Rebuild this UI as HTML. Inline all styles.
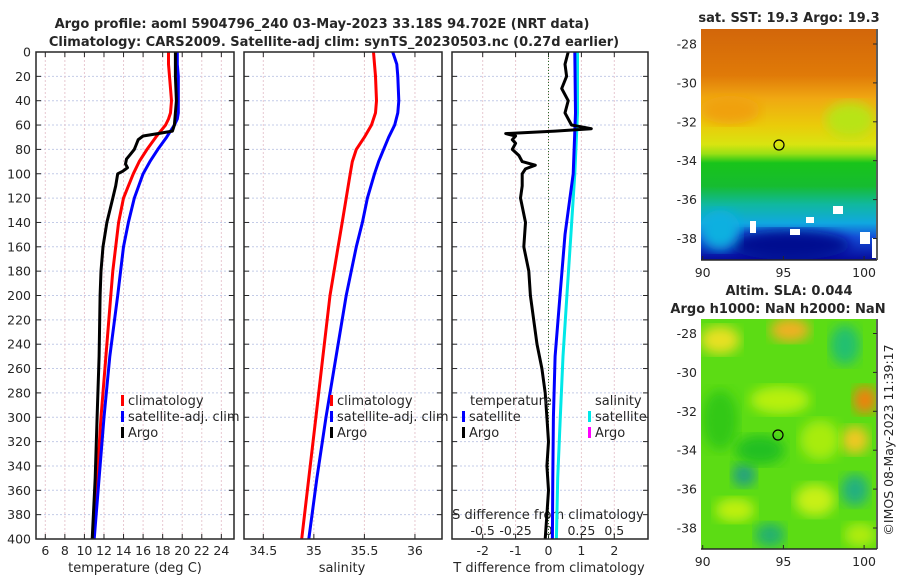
<!DOCTYPE html>
<html><head><meta charset="utf-8"><style>
html,body{margin:0;padding:0;background:#fff;}
svg text{font-family:"DejaVu Sans","Liberation Sans",sans-serif;}
</style></head><body>
<svg id="fig" width="900" height="580" viewBox="0 0 900 580" xmlns="http://www.w3.org/2000/svg">
<defs>
<linearGradient id="sstGrad" x1="0" y1="0" x2="0" y2="1">
<stop offset="0" stop-color="#d2660a"/><stop offset="0.2" stop-color="#e07a08"/>
<stop offset="0.3" stop-color="#f0a812"/><stop offset="0.42" stop-color="#eacc0a"/>
<stop offset="0.5" stop-color="#d8e410"/><stop offset="0.54" stop-color="#9ae014"/>
<stop offset="0.58" stop-color="#18c41a"/><stop offset="0.68" stop-color="#16bc30"/>
<stop offset="0.76" stop-color="#10b8a0"/><stop offset="0.84" stop-color="#10a8e0"/>
<stop offset="0.9" stop-color="#1450d8"/><stop offset="1" stop-color="#060a9c"/>
</linearGradient>
<filter id="blur4"><feGaussianBlur stdDeviation="6"/></filter>
<clipPath id="clipTop"><rect x="701" y="29" width="175" height="231"/></clipPath>
<clipPath id="clipBot"><rect x="701" y="319" width="175" height="230"/></clipPath>
</defs>
</svg>
<script>
// ---------- data ----------
const depthTicks=[0,20,40,60,80,100,120,140,160,180,200,220,240,260,280,300,320,340,360,380,400];
const tempTicks=[6,8,10,12,14,16,18,20,22,24];
const salTicks=[34.5,35,35.5,36];
const salTickLabels=["34.5","35","35.5","36"];
const tdiffTicks=[-2,-1,0,1,2];
const sdiffTicks=[-0.5,-0.25,0,0.25,0.5];
const sdiffTickLabels=["-0.5","-0.25","0","0.25","0.5"];

const climDepths=[0,10,20,30,40,50,55,60,65,70,80,90,100,120,140,160,180,200,250,300,350,400];
const tempClim=[18.6,18.6,18.7,18.8,18.9,18.8,18.6,18.3,17.8,17.3,16.4,15.6,15.0,14.0,13.5,13.2,12.9,12.7,12.2,11.7,11.3,10.9];
const tempSat=[19.5,19.5,19.6,19.6,19.6,19.6,19.5,19.2,18.8,18.4,17.5,16.7,16.0,15.1,14.5,14.0,13.7,13.4,12.6,12.0,11.5,11.0];
const argoDepths=[0,20,40,60,65,67,69,72,76,80,84,88,92,95,98,100,110,120,140,160,180,200,250,300,350,400];
const tempArgo=[19.3,19.3,19.4,19.2,19.0,17.5,16.0,15.5,15.3,15.1,14.7,14.3,14.2,14.4,13.9,13.4,13.2,12.9,12.3,11.9,11.7,11.6,11.5,11.3,11.1,10.8];

const salDepths=[0,10,20,40,50,60,70,80,90,100,120,140,160,200,250,300,350,400];
const salClim=[35.59,35.60,35.61,35.62,35.61,35.57,35.50,35.42,35.38,35.36,35.32,35.28,35.24,35.16,35.09,35.02,34.95,34.88];
const salSat=[35.78,35.82,35.83,35.84,35.83,35.80,35.74,35.69,35.64,35.60,35.53,35.48,35.42,35.32,35.22,35.12,35.03,34.95];

const tdArgoDepths=[0,10,20,30,40,50,60,63,65,67,69,72,75,80,85,90,93,96,100,110,120,140,160,180,200,220,240,260,280,300,320,340,360,380,400];
const tdArgo=[0.6,0.5,0.55,0.4,0.6,0.5,0.7,1.3,0.2,-1.3,-1.0,-1.1,-1.0,-1.1,-0.9,-0.8,-0.4,-0.7,-0.8,-0.8,-0.85,-0.7,-0.75,-0.6,-0.55,-0.45,-0.35,-0.2,-0.1,-0.05,0,-0.05,0,-0.05,-0.1];
const tdSatDepths=[0,50,100,150,200,250,300,350,400];
const tdSat=[0.8,0.82,0.75,0.5,0.35,0.2,0.15,0.13,0.12];
const sdSatDepths=[0,50,100,150,200,250,300,350,400];
const sdSat=[0.22,0.22,0.2,0.17,0.14,0.11,0.09,0.07,0.06];

// ---------- axes ----------
const Y0=52,Y1=539;
const yD=d=>Y0+d*(Y1-Y0)/400;
const xT=t=>45.3+(t-6)*9.78;
const xS=s=>263.3+(s-34.5)*101.1;
const xTd=v=>548.5+v*32.9;
const xSd=v=>548.5+v*131.6;
const NS="http://www.w3.org/2000/svg";
const svg=document.getElementById('fig');
function el(tag,attrs,parent){const e=document.createElementNS(NS,tag);for(const k in attrs)e.setAttribute(k,attrs[k]);(parent||svg).appendChild(e);return e;}
function txt(x,y,s,o){o=o||{};const t=el('text',{x:x,y:y,'font-size':o.size||12,'text-anchor':o.anchor||'middle',fill:o.fill||'#262626','font-weight':o.bold?'bold':'normal'});if(o.transform)t.setAttribute('transform',o.transform);t.textContent=s;return t;}

const panels=[{x0:36,x1:234,name:'temperature-panel'},{x0:244,x1:442,name:'salinity-panel'},{x0:452,x1:648,name:'difference-panel'}];
panels.forEach((p,i)=>{
  const g=el('g',{});
  
  
  el('rect',{x:p.x0,y:Y0,width:p.x1-p.x0,height:Y1-Y0,fill:'#fff'},g);
  depthTicks.forEach(d=>{
    if(d>0&&d<400) el('line',{x1:p.x0,x2:p.x1,y1:yD(d),y2:yD(d),stroke:'#c4cce8','stroke-width':1,'stroke-dasharray':'2,2'},g);
    el('line',{x1:p.x0,x2:p.x0+5,y1:yD(d),y2:yD(d),stroke:'#262626'},g);
    el('line',{x1:p.x1,x2:p.x1-5,y1:yD(d),y2:yD(d),stroke:'#262626'},g);
  });
  const xs= i==0? tempTicks.map(xT): i==1? salTicks.map(xS): tdiffTicks.map(xTd);
  xs.forEach(x=>{
    el('line',{x1:x,x2:x,y1:Y0,y2:Y1,stroke:'#e8c8d0','stroke-width':1,'stroke-dasharray':'2,2'},g);
    el('line',{x1:x,x2:x,y1:Y1,y2:Y1-5,stroke:'#262626'},g);
    el('line',{x1:x,x2:x,y1:Y0,y2:Y0+5,stroke:'#262626'},g);
  });
});
depthTicks.forEach(d=>{const t=txt(31,yD(d)+4.5,String(d),{anchor:'end',size:12.5});});
tempTicks.forEach(v=>txt(xT(v),555,String(v),{size:12.5}));
salTicks.forEach((v,i)=>txt(xS(v),555,salTickLabels[i],{size:12.5}));
tdiffTicks.forEach(v=>txt(xTd(v),555,String(v),{size:12.5}));
sdiffTicks.forEach((v,i)=>txt(xSd(v),535,sdiffTickLabels[i],{size:12.5}));
txt(135,572,'temperature (deg C)',{size:13});
txt(342,572,'salinity',{size:13});
txt(549,572,'T difference from climatology',{size:13});
txt(548,519,'S difference from climatology',{size:13});
el('line',{x1:xTd(0),x2:xTd(0),y1:Y0,y2:Y1,stroke:'#2a6a2a','stroke-width':1,'stroke-dasharray':'1,2'});

function line(depths,vals,xf,color,w,name){
  const pts=depths.map((d,i)=>xf(vals[i]).toFixed(1)+','+yD(d).toFixed(1)).join(' ');
  const pl=el('polyline',{points:pts,fill:'none',stroke:color,'stroke-width':w,'stroke-linejoin':'round'});
  
  
}
line(climDepths,tempClim,xT,'#ff0000',3,'temp-climatology-line');
line(climDepths,tempSat,xT,'#0000ff',3,'temp-satellite-line');
line(argoDepths,tempArgo,xT,'#000',3,'temp-argo-line');
line(salDepths,salClim,xS,'#ff0000',3,'sal-climatology-line');
line(salDepths,salSat,xS,'#0000ff',3,'sal-satellite-line');
line(sdSatDepths,sdSat,xSd,'#00e8e8',3,'sdiff-satellite-line');
line(tdSatDepths,tdSat,xTd,'#0000ff',3,'tdiff-satellite-line');
line(tdArgoDepths,tdArgo,xTd,'#000',3,'tdiff-argo-line');

panels.forEach(p=>el('rect',{x:p.x0,y:Y0,width:p.x1-p.x0,height:Y1-Y0,fill:'none',stroke:'#262626','stroke-width':1.5}));

function leg(x,y,color,label,name){
  const g=el('g',{});
  
  
  el('rect',{x:x,y:y-10,width:3,height:11,fill:color},g);
  const t=txt(x+7,y,label,{anchor:'start',size:13});g.appendChild(t);
}
leg(121,405,'#ff0000','climatology','legend-climatology');
leg(121,421,'#0000ff','satellite-adj. clim','legend-satellite');
leg(121,437,'#000','Argo','legend-argo');
leg(330,405,'#ff0000','climatology','legend-climatology-sal');
leg(330,421,'#0000ff','satellite-adj. clim','legend-satellite-sal');
leg(330,437,'#000','Argo','legend-argo-sal');
txt(470,405,'temperature',{anchor:'start',size:13});
leg(462,421,'#0000ff','satellite','legend-t-satellite');
leg(462,437,'#000','Argo','legend-t-argo');
txt(595,405,'salinity',{anchor:'start',size:13});
leg(588,421,'#00e8e8','satellite','legend-s-satellite');
leg(588,437,'#ff00ff','Argo','legend-s-argo');

txt(322,28,'Argo profile: aoml 5904796_240 03-May-2023 33.18S 94.702E (NRT data)',{bold:true,size:13});
txt(334,46,'Climatology: CARS2009. Satellite-adj clim: synTS_20230503.nc (0.27d earlier)',{bold:true,size:13});
txt(789,22,'sat. SST: 19.3 Argo: 19.3',{bold:true,size:13});
txt(789,295,'Altim. SLA: 0.044',{bold:true,size:13});
txt(778,313,'Argo h1000: NaN h2000: NaN',{bold:true,size:13});
txt(893,440,'©IMOS 08-May-2023 11:39:17',{size:12.5,transform:'rotate(-90 893 440)'});

// maps
const mapLatTicks=[-28,-30,-32,-34,-36,-38];
const mapLonTicks=[90,95,100];
const xLon=l=>702.7+(l-90)*16.14;
function mapFrame(name){
  const g=el('g',{});
  
  
  return g;
}
const g1=mapFrame('sst-map');
const c1=el('g',{'clip-path':'url(#clipTop)'},g1);
el('rect',{x:701,y:29,width:175,height:231,fill:'url(#sstGrad)'},c1);
el('ellipse',{cx:730,cy:110,rx:30,ry:14,fill:'#f0a010',filter:'url(#blur4)'},c1);
el('ellipse',{cx:850,cy:120,rx:25,ry:18,fill:'#b8e414',filter:'url(#blur4)'},c1);
el('ellipse',{cx:790,cy:245,rx:60,ry:15,fill:'#000a90',filter:'url(#blur4)'},c1);
el('ellipse',{cx:720,cy:230,rx:20,ry:20,fill:'#10b0e0',filter:'url(#blur4)'},c1);
[[750,221,6,12],[790,229,10,6],[806,217,8,6],[833,206,10,8],[860,232,10,12],[872,238,4,20]].forEach(r=>el('rect',{x:r[0],y:r[1],width:r[2],height:r[3],fill:'#fff'},c1));
el('circle',{cx:779,cy:145,r:5,fill:'none',stroke:'#000','stroke-width':1.2},g1);
const g2=mapFrame('sla-map');
const c2=el('g',{'clip-path':'url(#clipBot)'},g2);
el('rect',{x:701,y:319,width:175,height:230,fill:'#5cdc14'},c2);
[[720,340,20,14,'#e8e020'],[790,330,20,12,'#f0b020'],[865,400,12,14,'#f08010'],[780,400,30,14,'#b8f010'],[855,440,14,14,'#f0c820'],[845,345,15,20,'#20c070'],[744,475,12,12,'#20a080'],[855,490,14,16,'#20b080'],[770,535,15,12,'#20b070'],[720,420,18,30,'#30c818'],[760,450,25,15,'#20c020'],[820,440,20,20,'#a8ec10'],[735,510,20,12,'#c0f010'],[815,500,20,16,'#c8f018'],[860,535,16,12,'#b0ec10']].forEach(b=>el('ellipse',{cx:b[0],cy:b[1],rx:b[2],ry:b[3],fill:b[4],filter:'url(#blur4)'},c2));
el('circle',{cx:778,cy:435,r:5,fill:'none',stroke:'#000','stroke-width':1.2},g2);
[[29,260,44],[319,549,333.5]].forEach(m=>{
  el('line',{x1:877,x2:877,y1:m[0],y2:m[1],stroke:'#262626','stroke-width':1.5});
  el('line',{x1:701,x2:877,y1:m[1],y2:m[1],stroke:'#262626','stroke-width':1.5});
  mapLatTicks.forEach((v,i)=>{const y=m[2]+i*38.9;el('line',{x1:877,x2:873,y1:y,y2:y,stroke:'#262626'});txt(697,y+4.5,String(v),{anchor:'end',size:12.5});});
  mapLonTicks.forEach(v=>{el('line',{x1:xLon(v),x2:xLon(v),y1:m[1],y2:m[1]-4,stroke:'#262626'});txt(xLon(v),m[1]+17,String(v),{size:12.5});});
});
</script>
</body></html>
